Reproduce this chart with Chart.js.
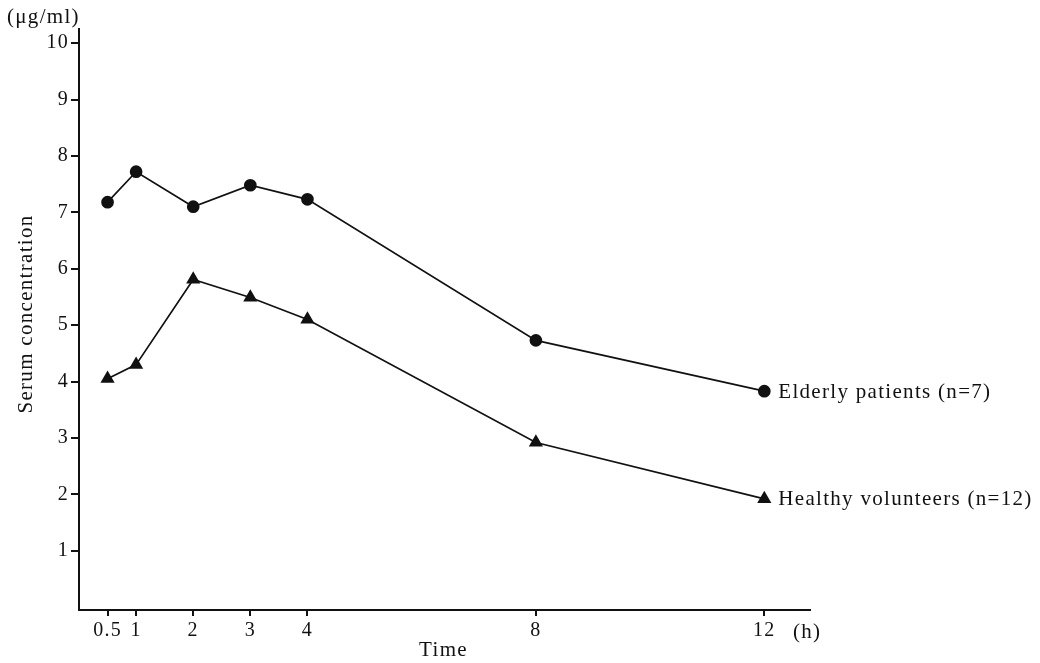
<!DOCTYPE html>
<html>
<head>
<meta charset="utf-8">
<script src="https://cdn.jsdelivr.net/npm/chart.js@4.4.1/dist/chart.umd.min.js"></script>
<style>
  html, body { margin: 0; padding: 0; background: #fff; }
  #wrap { width: 1040px; height: 663px; }
</style>
</head>
<body>
<div id="wrap"><canvas id="chart" width="1040" height="663"></canvas></div>
<script>
// Zeitpunkte (h) und Serumkonzentration (µg/ml)
const hours = [0.5, 1, 2, 3, 4, 8, 12];
const elderly = [7.18, 7.72, 7.1, 7.48, 7.23, 4.73, 3.83];
const healthy = [4.05, 4.3, 5.81, 5.49, 5.1, 2.92, 1.92];
const xTicks = [0.5, 1, 2, 3, 4, 8, 12];
const yTicks = [1, 2, 3, 4, 5, 6, 7, 8, 9, 10];
const seriesNames = ['Elderly patients (n=7)', 'Healthy volunteers (n=12)'];

const FONT = "'Liberation Serif', 'DejaVu Serif', serif";

const toPoints = (vals) => hours.map((h, i) => ({ x: h, y: vals[i] }));

// etwas Sperrung wie im Original-Satz
const spacing = {
    id: 'spacing',
    beforeDraw(chart) { chart.ctx.letterSpacing = '1.2px'; }
};

// Zusatztexte: Einheiten, Achsentitel, Reihenbeschriftung
const extraText = {
    id: 'extraText',
    afterDraw(chart) {
        const ctx = chart.ctx;
        ctx.save();
        ctx.letterSpacing = '1.3px';
        ctx.fillStyle = '#111';
        ctx.font = '21px ' + FONT;
        ctx.textBaseline = 'middle';

        ctx.textAlign = 'left';
        ctx.fillText('(\u03bcg/ml)', 7, 17);
        ctx.fillText('(h)', 793, 632);

        ctx.textAlign = 'center';
        ctx.fillText('Time', (chart.chartArea.left + chart.chartArea.right) / 2 - 1, 650);

        ctx.save();
        ctx.translate(26, 314);
        ctx.rotate(-Math.PI / 2);
        ctx.fillText('Serum concentration', 0, 0);
        ctx.restore();

        ctx.textAlign = 'left';
        chart.data.datasets.forEach((ds, i) => {
            const meta = chart.getDatasetMeta(i);
            const last = meta.data[meta.data.length - 1];
            ctx.fillText(seriesNames[i], last.x + 14, last.y + 1);
        });
        ctx.restore();
    }
};

new Chart(document.getElementById('chart'), {
    type: 'line',
    data: {
        datasets: [
            {
                label: seriesNames[0],
                data: toPoints(elderly),
                borderColor: '#111',
                backgroundColor: '#111',
                borderWidth: 1.7,
                pointStyle: 'circle',
                pointRadius: 5.5,
                tension: 0
            },
            {
                label: seriesNames[1],
                data: toPoints(healthy),
                borderColor: '#111',
                backgroundColor: '#111',
                borderWidth: 1.7,
                pointStyle: 'triangle',
                pointRadius: 6.5,
                tension: 0
            }
        ]
    },
    options: {
        responsive: false,
        animation: false,
        layout: { padding: { left: 0, top: 29, right: 230, bottom: 0 } },
        plugins: {
            legend: { display: false },
            tooltip: { enabled: false }
        },
        scales: {
            x: {
                type: 'linear',
                min: 0,
                max: 12.8,
                afterBuildTicks: (s) => { s.ticks = xTicks.map(v => ({ value: v })); },
                afterFit: (s) => { s.height = 53; },
                grid: { display: true, drawOnChartArea: false, drawTicks: true, tickLength: 6, color: '#111', lineWidth: 2 },
                border: { display: true, color: '#111', width: 2 },
                ticks: {
                    color: '#111',
                    font: { family: FONT, size: 20 },
                    padding: 3,
                    maxRotation: 0,
                    autoSkip: false,
                    callback: (v) => String(v)
                }
            },
            y: {
                type: 'linear',
                min: -0.05,
                max: 10.25,
                afterBuildTicks: (s) => { s.ticks = yTicks.map(v => ({ value: v })); },
                afterFit: (s) => { s.width = 79; },
                grid: { display: true, drawOnChartArea: false, drawTicks: true, tickLength: 8, color: '#111', lineWidth: 2 },
                border: { display: true, color: '#111', width: 2 },
                ticks: {
                    color: '#111',
                    font: { family: FONT, size: 20 },
                    padding: 2,
                    autoSkip: false,
                    callback: (v) => String(v)
                }
            }
        }
    },
    plugins: [spacing, extraText]
});
</script>
</body>
</html>
